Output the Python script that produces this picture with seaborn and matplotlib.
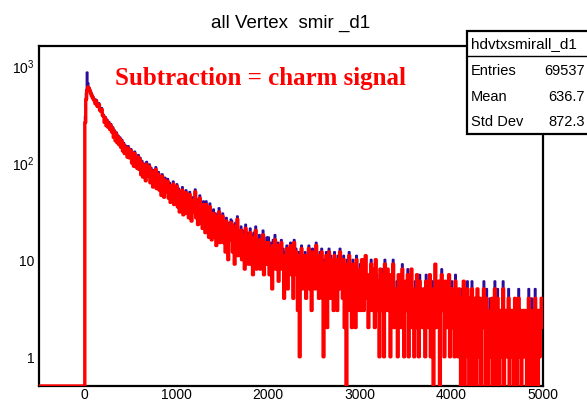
import numpy as np
import pandas as pd
import matplotlib
matplotlib.use("Agg")
import matplotlib.pyplot as plt
import seaborn as sns
from matplotlib.ticker import FixedLocator, FixedFormatter, NullFormatter, MultipleLocator, LogLocator
from matplotlib.patches import Rectangle

# ---------------- data ----------------
bin_width = 10
x_low = -500
x_high = 5000
data_start = 0

# all vertices (blue), counts per 10-unit bin from 0 to 5000
all_counts = [
    300, 520, 850, 660, 600, 570, 540, 510, 490, 470,
    450, 420, 445, 400, 390, 410, 360, 350, 365, 320,
    310, 270, 295, 250, 275, 240, 262, 228, 250, 215,
    232, 190, 215, 175, 205, 168, 190, 160, 182, 150,
    172, 138, 160, 130, 150, 142, 120, 148, 118, 135,
    138, 104, 126, 98, 130, 96, 115, 92, 120, 90,
    112, 80, 104, 76, 98, 88, 70, 102, 78, 94,
    96, 66, 88, 72, 60, 84, 70, 90, 58, 76,
    80, 56, 72, 50, 76, 60, 48, 70, 54, 66,
    68, 46, 62, 42, 58, 50, 64, 40, 56, 48,
    60, 38, 54, 34, 50, 42, 56, 32, 48, 40,
    52, 33, 46, 30, 50, 36, 28, 44, 34, 42,
    53, 30, 42, 26, 38, 46, 27, 36, 24, 40,
    36, 22, 40, 25, 33, 20, 38, 27, 18, 31,
    33, 20, 30, 16, 28, 23, 34, 18, 26, 21,
    30, 17, 25, 14, 27, 19, 12, 24, 18, 26,
    25, 14, 22, 11, 24, 16, 28, 13, 20, 15,
    22, 12, 20, 15, 9, 23, 14, 19, 11, 18,
    21, 11, 18, 8, 19, 14, 22, 10, 16, 13,
    18, 9, 16, 12, 20, 8, 15, 11, 17, 10,
    17, 8, 15, 11, 6, 16, 12, 18, 9, 14,
    15, 7, 14, 10, 16, 9, 13, 5, 12, 11,
    14, 6, 13, 9, 15, 8, 12, 5, 16, 10,
    13, 8, 3, 12, 1, 10, 14, 6, 11, 9,
    12, 5, 11, 8, 14, 6, 10, 3, 13, 9,
    11, 6, 15, 7, 10, 4, 12, 8, 13, 5,
    1, 10, 6, 12, 2, 9, 13, 5, 11, 7,
    10, 4, 12, 7, 9, 3, 11, 6, 13, 8,
    9, 5, 11, 2, 8, 0, 10, 6, 12, 4,
    7, 2, 10, 5, 9, 2, 11, 6, 8, 3,
    9, 3, 10, 5, 3, 8, 11, 4, 6, 2,
    7, 4, 10, 3, 8, 5, 2, 10, 7, 3,
    6, 1, 8, 3, 8, 5, 1, 10, 4, 3,
    8, 3, 7, 1, 7, 4, 10, 2, 5, 3,
    6, 1, 7, 3, 6, 2, 9, 4, 1, 5,
    6, 3, 8, 1, 5, 3, 8, 2, 5, 1,
    6, 2, 7, 3, 1, 7, 3, 4, 2, 5,
    4, 1, 7, 3, 5, 2, 7, 1, 4, 6,
    0, 4, 9, 2, 6, 3, 6, 0, 4, 8,
    3, 6, 1, 6, 3, 2, 5, 7, 1, 4,
    6, 2, 4, 1, 7, 3, 3, 1, 5, 2,
    0, 5, 3, 6, 0, 3, 2, 6, 1, 0,
    4, 1, 6, 0, 3, 4, 2, 0, 5, 3,
    1, 4, 0, 3, 2, 6, 3, 0, 5, 2,
    0, 3, 4, 1, 4, 0, 3, 6, 2, 0,
    5, 2, 0, 3, 1, 3, 6, 0, 2, 3,
    1, 3, 5, 0, 2, 3, 1, 3, 0, 4,
    2, 0, 3, 5, 1, 3, 0, 2, 3, 1,
    3, 1, 0, 3, 5, 2, 0, 4, 1, 3,
    0, 5, 2, 3, 0, 3, 1, 3, 4, 2,
]

# subtraction = charm signal (red), same bins
charm_counts = [
    260, 450, 560, 600, 580, 550, 520, 490, 470, 450,
    435, 405, 430, 385, 378, 395, 348, 338, 352, 308,
    300, 260, 285, 240, 266, 232, 252, 220, 240, 207,
    224, 182, 207, 168, 196, 160, 182, 153, 174, 144,
    165, 132, 153, 124, 143, 136, 114, 141, 112, 129,
    132, 99, 120, 92, 124, 91, 109, 87, 114, 85,
    106, 75, 98, 71, 93, 83, 65, 96, 73, 89,
    91, 62, 83, 68, 56, 79, 66, 85, 54, 72,
    76, 52, 68, 46, 72, 56, 44, 66, 50, 62,
    64, 43, 58, 39, 54, 46, 60, 37, 52, 45,
    57, 35, 51, 31, 47, 39, 52, 29, 45, 37,
    49, 30, 43, 27, 47, 33, 25, 41, 31, 39,
    50, 27, 39, 23, 35, 43, 24, 33, 21, 37,
    33, 19, 37, 22, 30, 17, 35, 24, 16, 28,
    30, 17, 28, 14, 26, 20, 31, 15, 24, 19,
    28, 15, 23, 12, 25, 17, 10, 22, 16, 24,
    23, 12, 20, 9, 22, 14, 26, 11, 18, 13,
    20, 10, 18, 13, 8, 21, 12, 17, 9, 16,
    19, 9, 16, 7, 17, 12, 20, 8, 14, 11,
    16, 8, 14, 10, 18, 7, 13, 9, 15, 9,
    15, 7, 13, 10, 5, 14, 11, 16, 8, 12,
    14, 6, 12, 9, 15, 8, 11, 4, 11, 10,
    13, 5, 12, 8, 14, 7, 11, 4, 15, 9,
    12, 7, 3, 11, 1, 9, 13, 5, 10, 8,
    11, 4, 10, 7, 13, 5, 9, 3, 12, 8,
    10, 5, 14, 6, 9, 4, 11, 7, 12, 4,
    1, 9, 5, 11, 2, 8, 12, 4, 10, 6,
    9, 3, 11, 6, 8, 3, 10, 5, 12, 7,
    8, 4, 10, 2, 7, 0, 9, 5, 11, 3,
    6, 2, 9, 4, 8, 2, 10, 5, 7, 3,
    8, 3, 10, 5, 3, 7, 11, 4, 6, 2,
    7, 4, 9, 3, 8, 5, 2, 10, 6, 3,
    6, 1, 8, 3, 7, 5, 1, 9, 4, 3,
    8, 3, 6, 1, 7, 4, 9, 2, 5, 3,
    5, 1, 7, 3, 6, 2, 8, 4, 1, 5,
    6, 3, 7, 1, 5, 3, 8, 2, 4, 1,
    5, 2, 7, 3, 1, 6, 3, 4, 2, 5,
    4, 1, 6, 3, 5, 2, 7, 1, 4, 5,
    0, 4, 9, 2, 5, 3, 6, 0, 4, 7,
    3, 5, 1, 6, 3, 2, 4, 7, 1, 4,
    5, 2, 4, 1, 6, 3, 3, 1, 5, 2,
    0, 4, 3, 6, 0, 3, 2, 5, 1, 0,
    4, 1, 5, 0, 3, 4, 2, 0, 5, 3,
    1, 4, 0, 3, 2, 5, 3, 0, 4, 2,
    0, 3, 3, 1, 4, 0, 3, 5, 2, 0,
    4, 2, 0, 3, 1, 3, 5, 0, 2, 3,
    1, 3, 4, 0, 2, 3, 1, 3, 0, 4,
    2, 0, 3, 4, 1, 3, 0, 2, 3, 1,
    3, 1, 0, 3, 4, 2, 0, 3, 1, 3,
    0, 4, 2, 3, 0, 3, 1, 3, 4, 2,
]

y_low = 0.5
y_high = 1590

title_text = "all Vertex  smir _d1"
annot_text = "Subtraction = charm signal"
stats_name = "hdvtxsmirall_d1"
stats_labels = ["Entries", "Mean", "Std Dev"]
stats_values = ["69537", "636.7", "872.3"]

x_major = [0, 1000, 2000, 3000, 4000, 5000]
x_major_labels = ["0", "1000", "2000", "3000", "4000", "5000"]
y_major = [1, 10, 100, 1000]
y_major_labels = ["1", "10", r"$\mathregular{10^{2}}$", r"$\mathregular{10^{3}}$"]

# ---------------- build step arrays ----------------
n_empty = int(round((data_start - x_low) / bin_width))
edges = x_low + bin_width * np.arange(n_empty + len(all_counts) + 1)

def step_frame(counts):
    vals = np.array([0] * n_empty + list(counts), dtype=float)
    vals = np.maximum(vals, y_low)  # empty bins are drawn on the bottom of the frame
    yv = np.append(vals, vals[-1])
    return pd.DataFrame({"x": edges, "y": yv})

df_all = step_frame(all_counts)
df_charm = step_frame(charm_counts)

# ---------------- figure ----------------
sns.set_style("white")
plt.rcParams["font.family"] = ["Liberation Sans", "DejaVu Sans"]
plt.rcParams["mathtext.fontset"] = "custom"
plt.rcParams["mathtext.rm"] = "Liberation Sans"

W, H = 587, 402
fig = plt.figure(figsize=(W / 100, H / 100), dpi=100)
fig.patch.set_facecolor("white")
ax = fig.add_axes([39 / W, (H - 387) / H, (543 - 39) / W, (387 - 47) / H])

sns.lineplot(data=df_all, x="x", y="y", ax=ax, color="#2c0c9c", lw=1.5,
             drawstyle="steps-post", estimator=None, sort=False, zorder=3)
sns.lineplot(data=df_charm, x="x", y="y", ax=ax, color="#ff0000", lw=2.4,
             drawstyle="steps-post", estimator=None, sort=False, zorder=4)

ax.set_yscale("log")
ax.set_xlim(x_low, x_high)
ax.set_ylim(y_low, y_high)
ax.set_xlabel("")
ax.set_ylabel("")

ax.xaxis.set_major_locator(FixedLocator(x_major))
ax.xaxis.set_major_formatter(FixedFormatter(x_major_labels))
ax.xaxis.set_minor_locator(MultipleLocator(200))
ax.yaxis.set_major_locator(FixedLocator(y_major))
ax.yaxis.set_major_formatter(FixedFormatter(y_major_labels))
ax.yaxis.set_minor_locator(LogLocator(base=10, subs=np.arange(2, 10), numticks=20))
ax.yaxis.set_minor_formatter(NullFormatter())

ax.tick_params(axis="both", which="both", direction="in", top=False, right=False,
               colors="black", labelsize=10)
ax.tick_params(axis="x", which="major", length=7, width=1.5, pad=1)
ax.tick_params(axis="x", which="minor", length=3.2, width=1.3)
ax.tick_params(axis="y", which="major", length=11, width=1.5, pad=3)
ax.tick_params(axis="y", which="minor", length=6, width=1.3)

for sp in ax.spines.values():
    sp.set_linewidth(1.6)
    sp.set_color("black")
    sp.set_visible(True)

ax.grid(False)

# title
fig.text(291 / W, 1 - 23 / H, title_text, ha="center", va="center",
         fontsize=13.5, color="black")

# annotation
ax.text(115 / W, 1 - 78 / H, annot_text, transform=fig.transFigure,
        ha="left", va="center", fontsize=18, fontweight="bold",
        color="#ff0000", family=["Liberation Serif", "DejaVu Serif"], zorder=6)

# stats box
bx0, bx1 = 467 / W, 1.02
by_top, by_bot, by_div = 1 - 32 / H, 1 - 135 / H, 1 - 57 / H
fig.patches.append(Rectangle((bx0, by_bot), bx1 - bx0, by_top - by_bot,
                             transform=fig.transFigure, facecolor="white",
                             edgecolor="black", lw=1.6, zorder=10))
fig.lines.append(plt.Line2D([bx0, bx1], [by_div, by_div], transform=fig.transFigure,
                            color="black", lw=1.0, zorder=11))
fig.text(471 / W, (by_top + by_div) / 2, stats_name, ha="left", va="center",
         fontsize=11, color="black", zorder=12)
row_y = [71, 97, 122]
for lab, val, yy in zip(stats_labels, stats_values, row_y):
    fig.text(471 / W, 1 - yy / H, lab, ha="left", va="center", fontsize=10.5,
             color="black", zorder=12)
    fig.text(585 / W, 1 - yy / H, val, ha="right", va="center", fontsize=10.5,
             color="black", zorder=12)

fig.savefig("out.png", dpi=100, facecolor="white")
